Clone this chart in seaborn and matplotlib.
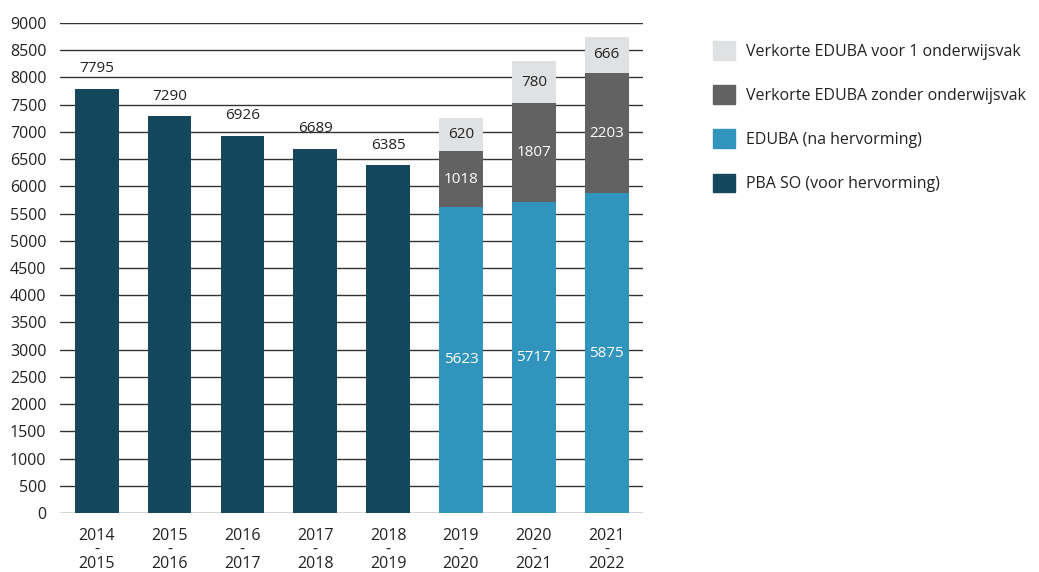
import matplotlib
matplotlib.use("Agg")
import matplotlib.pyplot as plt
import matplotlib.patches as mpatches
import seaborn as sns
import pandas as pd

# data
years = ["2014\n-\n2015", "2015\n-\n2016", "2016\n-\n2017", "2017\n-\n2018",
         "2018\n-\n2019", "2019\n-\n2020", "2020\n-\n2021", "2021\n-\n2022"]
pba_so = [7795, 7290, 6926, 6689, 6385, 0, 0, 0]
eduba = [0, 0, 0, 0, 0, 5623, 5717, 5875]
verk_zonder = [0, 0, 0, 0, 0, 1018, 1807, 2203]
verk_voor1 = [0, 0, 0, 0, 0, 620, 780, 666]

c_pba = "#15475c"
c_eduba = "#3094bd"
c_zonder = "#626263"
c_voor1 = "#e0e1e3"

sns.set_style("white")
plt.rcParams["font.family"] = ["Open Sans", "DejaVu Sans"]

df = pd.DataFrame({"jaar": years, "pba": pba_so, "eduba": eduba,
                   "zonder": verk_zonder, "voor1": verk_voor1})
bottom2 = [a + b for a, b in zip(eduba, verk_zonder)]

fig = plt.figure(figsize=(10.39, 5.72), dpi=100)
ax = fig.add_axes([0.058, 0.103, 0.561, 0.857])

common = dict(x="jaar", order=years, width=0.6, saturation=1, errorbar=None,
              ax=ax, zorder=3, linewidth=0)
sns.barplot(data=df, y="pba", color=c_pba, **common)
sns.barplot(data=df, y="eduba", color=c_eduba, **common)
sns.barplot(data=df, y="zonder", color=c_zonder, bottom=eduba, **common)
sns.barplot(data=df, y="voor1", color=c_voor1, bottom=bottom2, **common)

def lab(vals):
    return [str(v) if v else "" for v in vals]

cont = ax.containers
ax.bar_label(cont[0], labels=lab(pba_so), padding=9, fontsize=11, color="#222222")
ax.bar_label(cont[1], labels=lab(eduba), label_type="center", fontsize=11, color="white")
ax.bar_label(cont[2], labels=lab(verk_zonder), label_type="center", fontsize=11, color="white")
ax.bar_label(cont[3], labels=lab(verk_voor1), label_type="center", fontsize=11, color="#222222")

ax.set_ylim(0, 9000)
ax.set_xlim(-0.5, 7.5)
ax.set_yticks(range(0, 9001, 500))
ax.yaxis.grid(True, color="#333333", linewidth=1)
ax.set_axisbelow(True)
for s in ax.spines.values():
    s.set_visible(False)
ax.tick_params(axis="both", length=0, labelsize=11.5, colors="#222222")
ax.tick_params(axis="y", pad=10)
ax.tick_params(axis="x", pad=11)
for t in ax.get_xticklabels():
    t.set_linespacing(0.8)
ax.set_xlabel("")
ax.set_ylabel("")

handles = [mpatches.Patch(color=c_voor1, label="Verkorte EDUBA voor 1 onderwijsvak"),
           mpatches.Patch(color=c_zonder, label="Verkorte EDUBA zonder onderwijsvak"),
           mpatches.Patch(color=c_eduba, label="EDUBA (na hervorming)"),
           mpatches.Patch(color=c_pba, label="PBA SO (voor hervorming)")]
fig.legend(handles=handles, loc="upper left", bbox_to_anchor=(0.672, 0.953),
           frameon=False, fontsize=11.5, handlelength=1.4, handleheight=1.4,
           labelspacing=1.6, handletextpad=0.7, labelcolor="#222222")

fig.savefig("out.png", dpi=100)
